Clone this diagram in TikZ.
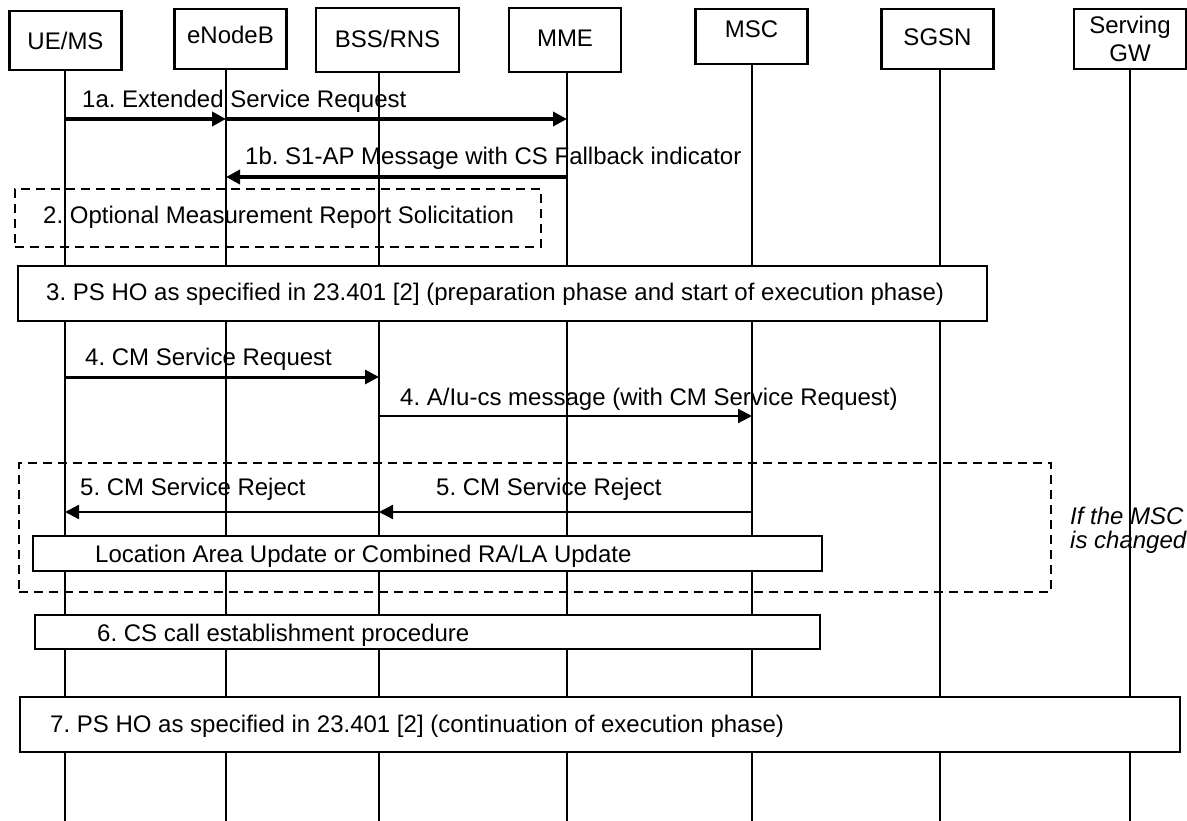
\documentclass[tikz,border=0pt]{standalone}
\usepackage{fontspec}
\setmainfont{Liberation Sans}
\usetikzlibrary{arrows.meta}
\frenchspacing

\begin{document}
\begin{tikzpicture}[
            x=1pt,y=-1pt,
            every node/.style={font=\fontsize{24}{28}\selectfont},
            entity/.style={draw,rectangle,line width=2.5pt,fill=white,minimum width=112pt,minimum height=60pt,inner sep=0pt,align=center},
            lifeline/.style={draw,line width=2pt},
            proc/.style={draw,rectangle,line width=2.5pt,fill=white,inner sep=0pt},
            opt/.style={draw,rectangle,line width=2pt,dash pattern=on 9pt off 6pt,inner sep=0pt},
            lab/.style={anchor=base west,inner sep=0pt},
            msg/.style={draw,line width=3.5pt,-{Triangle[length=14pt,width=14pt]}},
            thinmsg/.style={msg,line width=2.2pt}
          ]
          \path[use as bounding box,fill=white] (0,0) rectangle (1187,821);

          %entities
          \node[entity,minimum height=59pt] (ue) at (65.5,40.5) {UE/MS};
          \node[entity,text depth=8pt] (enb) at (230.5,39) {eNodeB};
          \node[entity,minimum width=143pt,minimum height=64pt,text depth=3pt] (bss) at (387.5,40) {BSS/RNS};
          \node[entity,minimum height=64pt,text depth=3pt] (mme) at (565,40) {MME};
          \node[entity,minimum height=55pt,text depth=14pt] (msc) at (751.5,36.5) {MSC};
          \node[entity,text depth=4pt] (sgsn) at (937.5,39) {SGSN};
          \node[entity] (sgw) at (1130,39) {Serving\\GW};

          %lifelines
          \coordinate (ueL) at (65,70);
          \coordinate (enbL) at (226,69);
          \coordinate (bssL) at (379,72);
          \coordinate (mmeL) at (567,72);
          \coordinate (mscL) at (752,64);
          \coordinate (sgsnL) at (940,69);
          \coordinate (sgwL) at (1130,69);
          \coordinate (bot) at (0,821);
          \foreach \l in {ueL,enbL,bssL,mmeL,mscL,sgsnL,sgwL}
            \draw[lifeline] (\l) -- (\l |- bot);

          %procedures
          \node[opt,minimum width=526pt,minimum height=58pt] (optmr) at (278,218) {};
          \node[proc,minimum width=969pt,minimum height=55pt] (psho) at (502.5,293.5) {};
          \node[opt,minimum width=1032pt,minimum height=129pt] (mscchg) at (535,527.5) {};
          \node[proc,minimum width=789pt,minimum height=35pt] (lau) at (427.5,553.5) {};
          \node[proc,minimum width=785pt,minimum height=34pt] (csce) at (427.5,632) {};
          \node[proc,minimum width=1160pt,minimum height=55pt] (pscont) at (600,724.5) {};

          \node[lab] (optmrt) at (43,224) {2. Optional Measurement Report Solicitation};
          \node[lab] (pshot) at (46,301) {3. PS HO as specified in 23.401 [2] (preparation phase and start of execution phase)};
          \node[lab] (laut) at (95,562) {Location Area Update or Combined RA/LA Update};
          \node[lab] (cscet) at (97,641) {6. CS call establishment procedure};
          \node[lab] (pscontt) at (50,732) {7. PS HO as specified in 23.401 [2] (continuation of execution phase)};
          \node[anchor=west,inner sep=0pt,align=left,font=\fontsize{24}{24}\selectfont\itshape] (mscchgt) at (1070,530) {If the MSC\\is changed};

          %messages
          \coordinate (r1a) at (0,119);
          \coordinate (r1b) at (0,177);
          \coordinate (r4) at (0,377);
          \coordinate (r4b) at (0,416);
          \coordinate (r5) at (0,512);

          \node[lab] (m1a) at (82,108) {1a. Extended Service Request};
          \node[lab] (m1b) at (245,165) {1b. S1-AP Message with CS Fallback indicator};
          \node[lab] (m4) at (85,366) {4. CM Service Request};
          \node[lab] (m4b) at (400,405) {4. A/Iu-cs message (with CM Service Request)};
          \node[lab] (m5b) at (436,495) {5. CM Service Reject};
          \node[lab] (m5a) at (80,495) {5. CM Service Reject};

          \path
          (ueL |- r1a) edge[msg] (enbL |- r1a)
          (enbL |- r1a) edge[msg] (mmeL |- r1a)
          (mmeL |- r1b) edge[msg] (enbL |- r1b)
          (ueL |- r4) edge[msg,line width=3pt] (bssL |- r4)
          (bssL |- r4b) edge[thinmsg] (mscL |- r4b)
          (mscL |- r5) edge[thinmsg] (bssL |- r5)
          (bssL |- r5) edge[thinmsg] (ueL |- r5)
          ;

      \end{tikzpicture}
\end{document}
